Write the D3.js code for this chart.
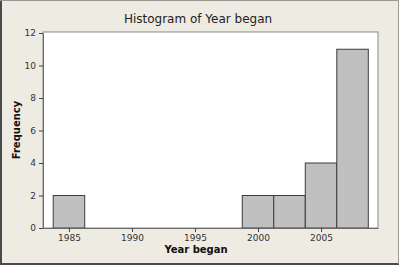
<!DOCTYPE html>
<html>
<head>
<meta charset="utf-8">
<script src="https://cdn.jsdelivr.net/npm/d3@7"></script>
<style>
  body { margin: 0; background: #ece9d8; }
  svg { display: block; font-family: "DejaVu Sans", Verdana, sans-serif; }
</style>
</head>
<body>
<div id="graph"></div>
<script>
// histogram bins: centre of each bin (width 2.5 years) and count
var binMids = [1985, 2000, 2002.5, 2005, 2007.5];
var counts = [2, 2, 2, 4, 11];
var binWidth = 2.5;
var xTicks = [1985, 1990, 1995, 2000, 2005];
var yTicks = [0, 2, 4, 6, 8, 10, 12];

var width = 399, height = 265;
var box = { left: 43, right: 378, top: 32, bottom: 228 };

var svg = d3.select("#graph").append("svg")
    .attr("width", width)
    .attr("height", height);

svg.append("rect")
    .attr("width", width).attr("height", height)
    .attr("fill", "#eeebe3");
// window frame, dark left/bottom
svg.append("path")
    .attr("d", "M1,0 V264 H399")
    .attr("fill", "none").attr("stroke", "#4a4a4a").attr("stroke-width", 2);
svg.append("path")
    .attr("d", "M0,0.5 H398.5 V264")
    .attr("fill", "none").attr("stroke", "#9a9890").attr("stroke-width", 1);

var x = d3.scaleLinear()
    .domain([1982.94, 2009.52])
    .range([box.left, box.right]);
var y = d3.scaleLinear()
    .domain([0, 12])
    .range([box.bottom, 33]);

svg.append("rect")
    .attr("x", box.left).attr("y", box.top)
    .attr("width", box.right - box.left).attr("height", box.bottom - box.top)
    .attr("fill", "#fff").attr("stroke", "#8a8a8a");

svg.selectAll(".bar")
    .data(binMids)
    .enter().append("rect")
    .attr("class", "bar")
    .attr("x", function (d) { return x(d - binWidth / 2); })
    .attr("width", function (d) { return x(d + binWidth / 2) - x(d - binWidth / 2); })
    .attr("y", function (d, i) { return y(counts[i]); })
    .attr("height", function (d, i) { return y(0) - y(counts[i]); })
    .attr("fill", "#c0c0c0")
    .attr("stroke", "#3c3c3c")
    .attr("stroke-width", 1);

var xAxis = svg.append("g")
    .attr("transform", "translate(0," + box.bottom + ")")
    .call(d3.axisBottom(x).tickValues(xTicks).tickSize(4).tickSizeOuter(0).tickFormat(d3.format("d")));
var yAxis = svg.append("g")
    .attr("transform", "translate(" + box.left + ",0)")
    .call(d3.axisLeft(y).tickValues(yTicks).tickSize(4).tickSizeOuter(0));

[xAxis, yAxis].forEach(function (g) {
    g.select(".domain").attr("stroke", "#6a6a6a");
    g.selectAll(".tick line").attr("stroke", "#444");
    g.selectAll(".tick text")
        .attr("fill", "#333")
        .style("font-size", "9px")
        .style("font-family", "DejaVu Sans, sans-serif");
});

svg.append("text")
    .attr("x", 198).attr("y", 23)
    .attr("text-anchor", "middle")
    .style("font-size", "12px")
    .attr("fill", "#222")
    .text("Histogram of Year began");

svg.append("text")
    .attr("x", 196).attr("y", 253)
    .attr("text-anchor", "middle")
    .style("font-size", "10px").style("font-weight", "bold")
    .attr("fill", "#111")
    .text("Year began");

svg.append("text")
    .attr("transform", "translate(20,130) rotate(-90)")
    .attr("text-anchor", "middle")
    .style("font-size", "10px").style("font-weight", "bold")
    .attr("fill", "#111")
    .text("Frequency");
</script>
</body>
</html>
